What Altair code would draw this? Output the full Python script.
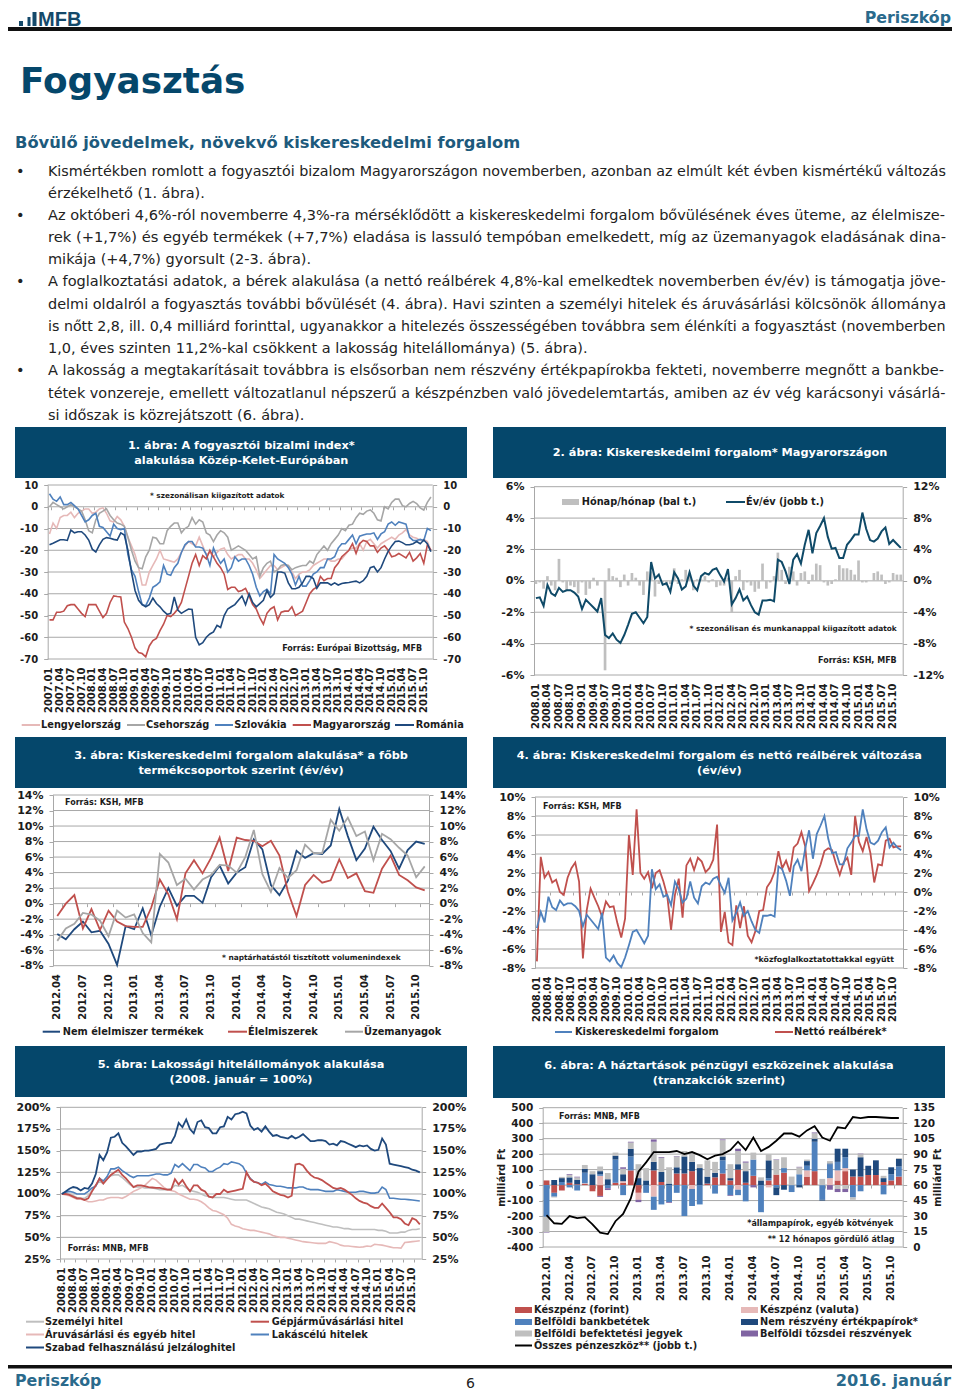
import altair as alt
import pandas as pd

W, H = 944, 1385
ONE = pd.DataFrame({"a": [0]})
SANS = "DejaVu Sans"
BAN = "#05476b"
INK = "#1c1c1c"
GRID = "#a8a8a8"

RED, PINK, BLUE, NAVY, GRAY, PURPLE = "#c0504d", "#e6b9b8", "#4f81bd", "#1f497d", "#a6a6a6", "#8064a2"

def months(y, m, n):
    out = []
    for _ in range(n):
        out.append(f"{y}.{m:02d}")
        m += 1
        if m > 12:
            y, m = y + 1, 1
    return out

BODY_LINES = [
    "Kismértékben romlott a fogyasztói bizalom Magyarországon novemberben, azonban az elmúlt két évben kismértékű változás",
    "érzékelhető (1. ábra).",
    "Az októberi 4,6%-ról novemberre 4,3%-ra mérséklődött a kiskereskedelmi forgalom bővülésének éves üteme, az élelmisze-",
    "rek (+1,7%) és egyéb termékek (+7,7%) eladása is lassuló tempóban emelkedett, míg az üzemanyagok eladásának dina-",
    "mikája (+4,7%) gyorsult (2-3. ábra).",
    "A foglalkoztatási adatok, a bérek alakulása (a nettó reálbérek 4,8%-kal emelkedtek novemberben év/év) is támogatja jöve-",
    "delmi oldalról a fogyasztás további bővülését (4. ábra). Havi szinten a személyi hitelek és áruvásárlási kölcsönök állománya",
    "is nőtt 2,8, ill. 0,4 milliárd forinttal, ugyanakkor a hitelezés összességében továbbra sem élénkíti a fogyasztást (novemberben",
    "1,0, éves szinten 11,2%-kal csökkent a lakosság hitelállománya) (5. ábra).",
    "A lakosság a megtakarításait továbbra is elsősorban nem részvény értékpapírokba fekteti, novemberre megnőtt a bankbe-",
    "tétek vonzereje, emellett változatlanul népszerű a készpénzben való jövedelemtartás, amiben az év vég karácsonyi vásárlá-",
    "si időszak is közrejátszott (6. ábra).",
]
BODY_BASE = [176, 198, 220, 242, 264, 286, 309, 331, 353, 375, 398, 420]
BODY_SIZE = [14.29, 14.5, 14.53, 14.69, 14.5, 14.55, 14.46, 14.22, 14.5, 14.56, 14.39, 14.5]
BULLET_ROWS = [0, 2, 5, 9]

# --- chart 1
POL = [-12.5,-7.5,-10,-5,-4,-4,-2.5,-5,-3,-2,-1,-1,
       -3,-2.5,-1,-0.5,-3,-6.5,-7,-4.5,-6,-9,-14,-18,
       -22,-28,-36,-36,-30,-27,-24,-20,-24,-24.5,-25,-25.5,
       -24,-21,-18,-16,-17,-18,-14,-18,-22,-21,-23,-21,
       -19.5,-19,-22,-24,-23,-22,-22,-24,-24,-26,-29,-33,
       -31,-29,-27,-27,-29,-28,-27,-27,-30,-33,-31,-30,
       -30,-29,-27,-26,-25,-24,-24,-25,-25,-24,-24,-22,
       -20,-19,-19,-17,-20,-16,-15,-17,-19,-17,-16,-15,
       -14,-15,-13,-12,-10.5,-13,-14,-14.5,-15.5,-15,-16,-20]
CZE = [0,2,1,0,-1,0,1,0,-1,-2,-6,-11,
       -12,-6,-3,-2,-1,-4,-6,-7.5,-8,-9,-14,-20,
       -25,-28,-28.5,-23,-20,-14,-14.5,-17,-17,-11,-9,-7.5,
       -7.5,-12,-10,-9,-5,-8,-6,-7,-12,-13,-16,-13,
       -11,-12,-14,-20,-19,-18,-19,-20,-22,-24,-23,-32,
       -28,-26,-25,-30,-29,-27,-26.5,-27,-29,-28,-27.5,-27,
       -27,-25,-26,-22,-20,-18,-20,-17,-15,-13,-10,-11,
       -8.5,-8,-5,-3,-3.5,-2,-1.5,-3,-6,-6.5,0,-1,
       2,3.5,3.5,0.5,0,1.5,2.5,1.5,-0.5,-1.5,2,4.5]
SVK = [6,3.5,2.5,4.5,1,1,2,0.5,-1,-4,-7,-6,
       -4,-3,-9,-9.5,-11.5,-13.5,-8,-10,-10.5,-10,-22,-29,
       -32,-39,-45,-45.5,-42,-37,-36,-34.5,-27,-31,-31.5,-28,
       -26,-21,-17.5,-16,-16,-18.5,-18.5,-19,-22,-27,-19,-23,
       -26,-24,-30,-28,-23,-25,-24,-24,-27,-31,-37,-41,
       -39,-38,-40,-22,-24,-25,-26,-28,-31,-36,-32,-36.5,
       -36.5,-34,-31,-30,-28,-28,-24,-24,-23,-19,-17,-17,
       -15,-13,-17,-13.5,-13,-12.5,-12.5,-12,-15,-12.5,-11.5,-8,
       -7,-8.5,-7,-7.5,-8,-14,-15.5,-15.5,-15,-15.5,-10,-11]
HUN = [-52,-52,-48.5,-48.5,-48,-45.5,-45,-45,-47,-49,-50.5,-45,
       -45,-45,-48,-51,-49,-44,-41,-41.3,-41.5,-53,-56,-60,
       -65,-67,-67.5,-69,-64,-61.5,-60.5,-57,-54,-50,-50.5,-49,
       -47,-44,-38,-32,-26,-22,-27,-22.5,-24,-20,-23,-26,
       -28,-31,-38,-37,-37,-39,-38.5,-37.5,-41,-45,-47,-51,
       -54,-49,-47,-46,-52,-48.5,-48,-48,-46,-50,-49,-48,
       -44,-40,-38,-37,-32,-34,-33,-33,-28,-26,-23,-21.5,
       -20,-17,-21.5,-17,-15.5,-16,-18,-18,-21,-19,-18,-20,
       -23,-22.5,-21.5,-22.5,-23.5,-21,-25,-23.5,-21.5,-26,-17.5,-20]
ROU = [-17.5,-16.8,-16,-15.2,-15.2,-15.5,-10.7,-12,-11.5,-11.5,-13,-15.3,
       -19.5,-20.8,-17.5,-15,-14.2,-14.5,-15,-15.3,-12,-13,-20,-30,
       -38.5,-43,-45,-46,-45,-42,-44.5,-46,-48,-49.5,-49,-41.5,
       -47.5,-49,-48,-47,-47.2,-60,-63.5,-62.5,-60,-58.5,-57.5,-54.5,
       -55.5,-50,-47,-46,-45,-43,-41,-45,-40,-44,-46,-44.5,
       -43,-38.5,-41.7,-40,-30,-30,-30.5,-35,-37.7,-37.7,-37,-35,
       -32,-32,-33,-37.5,-35,-35,-35,-36,-35,-36,-35.3,-35,
       -34.8,-34.5,-34.2,-35,-34,-32,-28,-27.5,-30,-28,-24,-20.5,
       -18,-16,-15.8,-16.5,-17.5,-17.5,-17,-16,-17,-15.3,-17,-20.7]

# --- chart 2
MOM = [-0.2,-0.1,-0.5,0.3,-0.3,-0.6,1.4,-0.1,-0.6,-0.3,-0.4,-0.8,
       -0.1,-0.9,-0.5,0.2,-0.3,0,-5.7,0.8,0.3,0.2,-0.4,0.4,
       -0.3,0.5,0.2,-0.3,-0.9,0.6,0.6,-1,-0.2,-0.1,-0.3,-0.2,
       0.8,-0.2,0.1,0.7,0.4,-0.6,0.1,0.1,0.3,-0.1,0.1,-0.4,
       -0.3,-0.3,0.2,-2.0,0.3,0.7,-0.6,-0.1,-0.3,-0.7,-0.5,1.1,
       -0.5,-0.1,0.3,1.8,0.7,-0.2,0.9,0.6,-0.3,0.5,0.6,-0.2,
       0.4,1.1,1.0,-0.1,-0.3,-0.2,0.1,1.0,0.8,0.8,0.7,0.4,
       1.3,-0.1,-0.1,0,0.5,0.6,0.4,-0.2,-0.1,0.5,0.4,0.4]
YOY = [-2.2,-2.1,-3.2,-0.5,-1.6,-1.9,-0.9,-1.4,-1.2,-1.2,-1.5,-2.0,
       -3.6,-2.4,-2.9,-3.4,-3.9,-2.2,-6.9,-7.3,-6.7,-7.5,-7.9,-6.9,
       -5.6,-4.2,-4.0,-4.7,-5.4,-4.6,2.4,0.3,0.8,-0.5,-0.3,-1.4,
       1.1,0.3,-1.1,-0.7,1.1,-0.6,-1.2,0.6,1.0,0.8,1.4,1.6,
       0.7,-0.1,1.5,-3.0,-2.2,-1.1,-2.5,-2.0,-3.1,-4.0,-4.3,-2.5,
       -2.5,-2.4,-2.6,2.7,2.4,1.2,-0.4,2.7,3.4,2.2,4.6,6.5,
       3.5,6.1,7.0,8.0,5.6,4.1,4.2,2.9,2.9,4.6,5.2,5.9,
       5.9,8.7,6.6,5.2,5.0,5.4,6.3,6.8,4.7,5.2,4.7,4.2]

# --- chart 3
NONFOOD = [-3.9,-4.6,-3.3,-2.3,-3.7,-3.5,-5.2,-7.9,-2.9,-3.3,-0.6,-4.1,-0.4,2,-0.3,1,1,0.1,3.4,4.9,2.6,4,4.7,8.3,7,2.4,1.1,3,6.8,5.9,6.5,6.4,7.5,12.2,8.7,5.6,7.1,9.9,8.2,6.8,4.5,6.9,8,7.7]
FOOD = [-1.6,0,1.1,-3.2,-0.7,-3.4,-0.9,-2.3,-2.9,-3,-3,-0.5,3.1,1.2,-2,3.9,5.6,3.9,5.9,8.5,4.2,8.5,8.2,8.1,7.4,8.1,6.2,1.5,-1.6,2.4,3.7,2.7,3,5.7,3.3,3.9,1.6,1.4,4.5,6.2,3.7,3,2.1,1.7]
FUEL = [-4.8,-3.2,-2.6,-1.2,-1.4,-2.2,-4.2,-0.9,-1.8,-1.4,-3.8,-5,6.4,5.3,2.4,3.2,1.8,3.1,3.7,5,4.9,4,6,9.5,3.8,1.5,4.6,3.3,4.3,7.6,6.5,6.5,10.8,9.4,11.1,8.7,9.3,5.6,9,8.3,7.2,6.2,3.4,4.8]

# --- chart 4
RETAIL = [-3.8,-2.1,-3.2,-0.5,-1.6,-1.9,-0.9,-1.4,-1.2,-1.2,-1.5,-2.0,
          -3.6,-2.4,-2.9,-3.4,-3.9,-2.2,-6.9,-7.3,-6.7,-7.5,-7.9,-6.9,
          -5.6,-4.2,-4.0,-4.7,-5.4,-4.6,2.4,0.3,0.8,-0.5,-0.3,-1.4,
          1.1,0.3,-1.1,-0.7,1.1,-0.6,-1.2,0.6,1.0,0.8,1.4,1.6,
          0.7,-0.1,1.5,-3.0,-2.2,-1.1,-2.5,-2.0,-3.1,-4.0,-4.3,-2.5,
          -2.5,-2.4,-2.6,2.7,2.4,1.2,-0.4,2.7,3.4,2.2,4.6,6.5,
          3.5,6.1,7.0,8.0,5.6,4.1,4.2,2.9,2.9,4.6,5.2,5.9,
          5.9,8.7,6.6,5.2,5.0,5.4,6.3,6.8,4.7,5.2,4.7,4.4]
WAGE = [-7.3,3.7,1.5,2.1,1,1.3,0,-0.3,1.5,2.5,3.1,1.1,
        -7,-1.9,0.35,-0.6,-1.5,-2.6,-1,-1.6,-1.5,-3.3,-4.8,-2.8,
        6,1.8,8.7,2,1.4,2.1,0.4,2,2.3,1.1,-0.4,-4,
        -0.3,1.4,-2.7,2.8,3.5,2.3,3.6,3.2,2.1,2.5,3.4,7.1,
        -4.2,-2.1,-5.3,-5.6,-1.4,-3.8,-1.5,-4.6,-5.3,-4.1,-2,-1.9,
        0.5,1.1,2.1,4.3,2.5,3.3,2.1,4.7,5.1,6.3,4.8,0.1,
        0.9,1.8,2.9,4.3,4.6,4.4,3,1.8,3.1,3.6,1.8,8,
        5.3,4.3,5.8,4.1,1,2.9,2.8,5.4,5.6,4.7,4.8,4.8]

# --- chart 5
PERS = [100,101,100,98,96,95,95,98,104,110,115,112,
        118,121,122,122,119,115,111,108,108,108,107,107,
        107,106,105,105,105,106,110,109,110,107,104,103,
        102,100,98,97,96,96,96,96,95,94,93,93,
        93,93,91,89,87,85,84,83,81,79,78,77,
        75,73,71,71,70,69,68,67,66,65,64,63,
        62,62,61,60,60,59,59,59,59,59,59,59,
        58,58,57,55,55,55,56,56,58,59,59,60]
CONS = [100,99,98,96,94,94,93,91,91,92,93,93,
        95,96,96,96,95,97,100,103,105,107,110,114,
        118,116,112,108,105,104,103,100,98,96,94,94,
        93,91,88,84,81,80,78,76,72,65,63,62,
        60,59,58,58,57,56,55,54,52,51,50,50,
        49,48,47,46,45,44.5,44,43.5,43,43,43,45,
        44,43,41,40,40,39.5,39,38.5,39,40,39.5,42,
        41.5,41,40,39,38,38,37.5,44,44.5,45,45.5,46]
FREE = [100,103,106,108,107,104,107,106,112,123,145,139,
        148,165,166,170,159,155,150,145,149,149,150,150,
        151,152,157,158,159,159,167,182,177,186,175,170,
        183,185,177,176,170,170,177,178,189,186,192,193,
        195,193,179,174,176,172,178,172,167,168,166,165,
        164,167,164,166,169,165,161,161,162,162,161,157,
        158,156,161,160,158,156,154,156,155,156,152,150,
        151,164,157,135,134,133,132,131,130,128,127,125]
AUTO = [100,100,99,97,95,95,93,95,103,110,118,112,
        117,122,125,128,122,118,113,108,110,110,109,108,
        107.5,107,107,106,105,105,117,111,116,109,103,110,
        110,105,103,97,96,100,100,105,102,103,104,105,
        106,125,117,114,113,110,112,108,103,101,99,98,
        96,98,134,135,133,127,122,119,118,116,113,110,
        107,106,107,105,102,99,95,92,90,89,86,84,
        84,89,84,79,73,73,71,66,64,72,70,65]
HOME = [100,102,103,102,100,100,100,103,107,109,118,115,
        120,129,129,131,127,124,121,119,121,121,121,121,
        122,123,123,122,122,124,134,131,135,131,127,134,
        134,131,130,126,126,129,131,135,134,137,136,135,
        132,124,118,114,113,111,114,111,110,109,109,108,
        107,107,107,108,108,106,105,105,105,104,103,103,
        103,105,104,103,102,102,102,103,103,102,101,101,
        102,108,105,95,95,94.5,94,94,93.5,93,92.5,92]

# --- chart 6
HUF = [30,-50,-35,15,5,8,-40,-70,0,15,15,95,-50,0,95,20,0,75,75,90,0,10,50,75,30,100,15,60,0,30,68,80,0,0,55,90,0,0,30,90,55,55,65,65,20,30,55]
FX = [0,0,0,0,0,4,0,60,0,0,10,0,-45,0,-75,0,0,0,0,-25,0,0,0,0,0,-30,0,0,0,-15,0,0,0,0,40,0,0,45,65,20,0,0,0,0,0,0,0]
DEP = [-205,-25,20,-15,-35,68,0,10,-20,150,-65,90,0,-50,-85,-125,-110,-50,-200,-110,-125,0,-55,85,-65,-35,-105,105,-175,15,-15,30,-45,70,30,190,-95,90,55,70,-80,-40,0,0,-60,40,65]
BOND = [0,33,25,35,30,25,70,20,38,25,45,50,45,30,55,65,10,40,110,60,110,45,30,25,15,35,75,0,30,115,-50,-30,0,-15,30,20,-5,5,85,55,45,125,60,95,25,45,50]
FUND = [-100,-5,8,15,15,25,20,30,40,20,35,40,90,80,130,90,105,70,35,55,25,105,70,105,90,85,55,45,20,40,95,70,55,45,10,35,40,15,-25,-25,-15,20,0,0,15,0,5]
EQ = [-3,0,0,5,4,0,0,-6,-12,0,10,5,-15,0,15,5,-5,3,0,0,0,0,0,5,-5,15,7,-15,0,0,3,0,0,3,0,5,0,-30,-20,-20,0,3,0,0,0,0,0]
TOTAL = [31,23,22.5,30,28,29,22,14,12.5,25,32,47,73,82,92,92,92,93,90,92,89,85,88.5,90,94,102,94,106,93,97,103,110,110,107,113,117,106,103,116,115,126,125,126,126,125.5,125,125]


def T(s, x, y, size=9.8, bold=True, color=INK, align="left", angle=None, base="alphabetic", font=SANS):
    kw = dict(text=s, align=align, baseline=base, font=font, fontSize=size,
              fontWeight="bold" if bold else "normal", color=color)
    if angle is not None:
        kw["angle"] = angle
    return alt.Chart(ONE).mark_text(**kw).encode(x=alt.value(x - 8), y=alt.value(y - 8))


def R(a, b, c, d, color):
    return alt.Chart(ONE).mark_rect(color=color).encode(
        x=alt.value(a - 8), x2=alt.value(b - 8), y=alt.value(c - 8), y2=alt.value(d - 8))


def LK(s, a, b, tx, y, color, thick=2, size=9.8):
    return [R(a, b, y - thick / 2, y + thick / 2, color), T(s, tx, y, size=size, base="middle")]


class Panel:
    def __init__(self, cats, ticks, x0, x1, ytop, ybot, dom, yvals, pad=0.0):
        self.cats, self.ticks = cats, ticks
        self.x0, self.x1, self.ytop, self.ybot = x0, x1, ytop, ybot
        self.dom, self.yvals = dom, yvals
        self.xs = alt.Scale(domain=cats, range=[x0 - 8, x1 - 8], paddingInner=pad, paddingOuter=pad / 2)

    def ys(self, dom=None):
        return alt.Scale(domain=dom or self.dom, range=[self.ybot - 8, self.ytop - 8], nice=False, zero=False)

    def yaxis(self, orient, vals, fmt, size):
        off = -(self.x0 - 8) if orient == "left" else self.x1 - 8 - W
        return alt.Axis(orient=orient, offset=off, values=vals, title=None, grid=False,
                        domainColor=GRID, tickColor=GRID, tickSize=4, labelPadding=6,
                        labelFont=SANS, labelFontSize=size, labelFontWeight="bold", labelColor=INK,
                        labelExpr=fmt, labelOverlap=False)

    def frame(self, fmt, rdom=None, rvals=None, rfmt=None, size=11, xsize=10, tick_at=None):
        L = []
        d = pd.DataFrame({"v": self.yvals})
        L.append(alt.Chart(d).mark_rule(color=GRID, strokeWidth=1).encode(
            y=alt.Y("v:Q", scale=self.ys(), axis=self.yaxis("left", self.yvals, fmt, size)),
            x=alt.value(self.x0 - 8), x2=alt.value(self.x1 - 8)))
        dr = pd.DataFrame({"v": rvals or self.yvals})
        L.append(alt.Chart(dr).mark_rule(opacity=0).encode(
            y=alt.Y("v:Q", scale=self.ys(rdom), axis=self.yaxis("right", rvals or self.yvals, rfmt or fmt, size)),
            x=alt.value(self.x0 - 8), x2=alt.value(self.x1 - 8)))
        dt = pd.DataFrame({"m": self.ticks})
        L.append(alt.Chart(dt).mark_rule(opacity=0).encode(
            x=alt.X("m:N", scale=self.xs, sort=None, axis=alt.Axis(
                orient="bottom", offset=self.ybot - 8 - H, values=self.ticks, title=None, grid=False,
                labelAngle=270, labelAlign="right", labelBaseline="middle", labelPadding=8,
                ticks=False, domain=False, labelFont=SANS, labelFontSize=xsize, labelFontWeight="bold",
                labelColor=INK, labelOverlap=False)),
            y=alt.value(0), y2=alt.value(1)))
        if tick_at is not None:
            lo, hi = self.dom
            y0 = self.ybot - (tick_at - lo) / (hi - lo) * (self.ybot - self.ytop)
            L.append(alt.Chart(dt).mark_rule(opacity=0).encode(
                x=alt.X("m:N", scale=self.xs, sort=None, axis=alt.Axis(
                    orient="bottom", offset=y0 - 8 - H, values=self.ticks, title=None, grid=False,
                    labels=False, domain=False, ticks=True, tickSize=3, tickColor=GRID, tickBand="extent")),
                y=alt.value(0), y2=alt.value(1)))
        return L

    def line(self, vals, color, width=1.6, dom=None):
        d = pd.DataFrame({"m": self.cats[:len(vals)], "v": vals})
        return alt.Chart(d).mark_line(color=color, strokeWidth=width, clip=False).encode(
            x=alt.X("m:N", scale=self.xs, sort=None, axis=None),
            y=alt.Y("v:Q", scale=self.ys(dom), axis=None))

    def bars(self, vals, color):
        d = pd.DataFrame({"m": self.cats[:len(vals)], "v": vals})
        return alt.Chart(d).mark_bar(color=color).encode(
            x=alt.X("m:N", scale=self.xs, sort=None, axis=None),
            y=alt.Y("v:Q", scale=self.ys(), axis=None))

    def stack(self, series):
        rows = []
        for o, (name, vals, col) in enumerate(series):
            for m, v in zip(self.cats, vals):
                rows.append({"m": m, "v": v, "s": name, "o": o})
        d = pd.DataFrame(rows)
        return alt.Chart(d).mark_bar().encode(
            x=alt.X("m:N", scale=self.xs, sort=None, axis=None),
            y=alt.Y("v:Q", scale=self.ys(), axis=None, stack="zero"),
            color=alt.Color("s:N", legend=None, scale=alt.Scale(
                domain=[s[0] for s in series], range=[s[2] for s in series])),
            order=alt.Order("o:Q"))


def banner(a, b, c, d, lines, cx, ys, size=11.3):
    out = [R(a, b, c, d, BAN)]
    for s, y in zip(lines, ys):
        out.append(T(s, cx, y, size=size, color="white", align="center", base="middle"))
    return out


PCT = "datum.value + '%'"
NUM = "'' + datum.value"
L = []

# page furniture
L += [R(8, 952, 27, 31, "#111111"), R(8, 952, 1365, 1368.5, "#111111")]
L += [R(19, 23, 21, 26, "#14496a"), R(27.5, 30.5, 17, 26, "#14496a"), R(32.5, 36.5, 12, 26, "#14496a")]
L.append(T("MFB", 38, 26, size=20, color="#14496a", font="Liberation Sans"))
L.append(T("Periszkóp", 951, 23, size=15.8, color="#2a6a8c", align="right"))
L.append(T("Fogyasztás", 20, 93, size=35.8, color="#05476b"))
L.append(T("Bővülő jövedelmek, növekvő kiskereskedelmi forgalom", 15, 148, size=16.3, color="#1d5a7c"))
for i, (s, y, z) in enumerate(zip(BODY_LINES, BODY_BASE, BODY_SIZE)):
    L.append(T(s, 48, y, size=z, bold=False, color="#222222"))
    if i in BULLET_ROWS:
        L.append(T("•", 16, y, size=14.5, bold=False, color="#222222"))
L.append(T("Periszkóp", 15, 1386, size=15.8, color="#2a6a8c"))
L.append(T("6", 466, 1388, size=14, bold=False, color="#222222"))
L.append(T("2016. január", 951, 1386, size=16.2, color="#2a6a8c", align="right"))

# 1
c1 = months(2007, 1, 108)
p = Panel(c1, c1[::3], 47.7, 432.7, 485, 659, [-70, 10], list(range(-70, 11, 10)))
L += banner(15, 467, 427, 478, ["1. ábra: A fogyasztói bizalmi index*", "alakulása Közép-Kelet-Európában"], 241.3, [445.7, 461])
L += p.frame(NUM, size=10, tick_at=0)
for v, col in [(POL, PINK), (CZE, GRAY), (SVK, BLUE), (HUN, RED), (ROU, NAVY)]:
    L.append(p.line(v, col))
L.append(T("* szezonálisan kiigazított adatok", 150, 495.7, size=7.3, base="middle"))
L.append(T("Forrás: Európai Bizottság, MFB", 422, 649.3, size=8, align="right", base="middle"))
for s, a, b, tx, col in [("Lengyelország", 21.7, 40, 41, PINK), ("Csehország", 127, 145, 146, GRAY), ("Szlovákia", 215, 233, 234.3, BLUE),
                         ("Magyarország", 292.7, 311, 312.7, RED), ("Románia", 395, 414, 415.7, NAVY)]:
    L += LK(s, a, b, tx, 725, col)

# 2
c2 = months(2008, 1, 96)
p = Panel(c2, c2[::3], 534, 902.7, 486.7, 675, [-6, 6], list(range(-6, 7, 2)), pad=0.3)
L += banner(493, 946, 427, 478, ["2. ábra: Kiskereskedelmi forgalom* Magyarországon"], 720, [453.3])
L += p.frame(PCT, rdom=[-12, 12], rvals=list(range(-12, 13, 4)))
L.append(p.bars(MOM, "#bfbfbf"))
L.append(p.line(YOY, "#0f4a68", width=2, dom=[-12, 12]))
L.append(T("* szezonálisan és munkanappal kiigazított adatok", 896.7, 629, size=7.4, align="right", base="middle"))
L.append(T("Forrás: KSH, MFB", 896.7, 660.7, size=8, align="right", base="middle"))
L += LK("Hónap/hónap (bal t.)", 562, 579, 581.7, 502, "#bfbfbf", thick=6)
L += LK("Év/év (jobb t.)", 726, 745, 746, 502, "#0f4a68")

# 3
c3 = months(2012, 4, 44)
p = Panel(c3, c3[::3], 53, 429, 795, 965.7, [-8, 14], list(range(-8, 15, 2)))
L += banner(15, 467, 737, 788, ["3. ábra: Kiskereskedelmi forgalom alakulása* a főbb", "termékcsoportok szerint (év/év)"], 241, [755.7, 771])
L += p.frame(PCT, tick_at=0)
for v, col in [(NONFOOD, NAVY), (FOOD, RED), (FUEL, GRAY)]:
    L.append(p.line(v, col, width=1.8))
L.append(T("Forrás: KSH, MFB", 65, 803.3, size=8, base="middle"))
L.append(T("* naptárhatástól tisztított volumenindexek", 222, 958, size=7.4, base="middle"))
for s, a, b, tx, col in [("Nem élelmiszer termékek", 42.7, 60, 62.7, NAVY), ("Élelmiszerek", 228, 247, 248, RED), ("Üzemanyagok", 345, 363, 364, GRAY)]:
    L += LK(s, a, b, tx, 1031.7, col)

# 4
p = Panel(c2, c2[::3], 535, 903, 797, 968, [-8, 10], list(range(-8, 11, 2)))
L += banner(493, 946, 737, 788, ["4. ábra: Kiskereskedelmi forgalom és nettó reálbérek változása", "(év/év)"], 719.3, [755.7, 771])
L += p.frame(PCT, tick_at=0)
L.append(p.line(WAGE, RED, width=1.8))
L.append(p.line(RETAIL, BLUE, width=1.8))
L.append(T("Forrás: KSH, MFB", 543, 807, size=8, base="middle"))
L.append(T("*közfoglalkoztatottakkal együtt", 894, 960, size=7.8, align="right", base="middle"))
L += LK("Kiskereskedelmi forgalom", 555, 572, 575, 1032, BLUE)
L += LK("Nettó reálbérek*", 775, 793, 794, 1032, RED)

# 5
p = Panel(c2, c2[::3], 60, 421.7, 1107.3, 1259, [25, 200], list(range(25, 201, 25)))
L += banner(15, 467, 1046, 1097, ["5. ábra: Lakossági hitelállományok alakulása", "(2008. január = 100%)"], 241, [1065, 1080])
L += p.frame(PCT, tick_at=25)
for v, col, w in [(PERS, "#bfbfbf", 1.6), (CONS, PINK, 1.6), (HOME, BLUE, 1.6), (AUTO, RED, 1.8), (FREE, NAVY, 1.8)]:
    L.append(p.line(v, col, width=w))
L.append(T("Forrás: MNB, MFB", 67.7, 1249, size=8, base="middle"))
for s, a, b, tx, y, col in [("Személyi hitel", 26, 44, 45, 1321.7, "#bfbfbf"), ("Áruvásárlási és egyéb hitel", 26, 44, 45, 1334.5, PINK),
                            ("Szabad felhasználású jelzáloghitel", 26, 44, 45, 1347.5, NAVY),
                            ("Gépjárművásárlási hitel", 250.7, 269, 271.7, 1321.7, RED), ("Lakáscélú hitelek", 250.7, 269, 271.7, 1334.5, BLUE)]:
    L += LK(s, a, b, tx, y, col)

# 6
c6 = months(2012, 1, 47)
p = Panel(c6, c6[::3], 542.7, 902.7, 1107.7, 1247, [-400, 500], list(range(-400, 501, 100)), pad=0.24)
L += banner(493, 945, 1046, 1098, ["6. ábra: A háztartások pénzügyi eszközeinek alakulása", "(tranzakciók szerint)"], 719, [1065.7, 1081])
L += p.frame(NUM, rdom=[0, 135], rvals=list(range(0, 136, 15)), size=10.5, tick_at=0)
L.append(p.stack([("Készpénz (forint)", HUF, RED), ("Készpénz (valuta)", FX, PINK), ("Belföldi bankbetétek", DEP, BLUE),
                  ("Nem részvény értékpapírok*", BOND, NAVY), ("Belföldi befektetési jegyek", FUND, "#bfbfbf"),
                  ("Belföldi tőzsdei részvények", EQ, PURPLE)]))
L.append(p.line(TOTAL, "#000000", width=1.8, dom=[0, 135]))
L.append(T("Forrás: MNB, MFB", 559, 1116.7, size=8, base="middle"))
L.append(T("*állampapírok, egyéb kötvények", 893.3, 1224.3, size=8, align="right", base="middle"))
L.append(T("** 12 hónapos gördülő átlag", 894.5, 1240, size=8, align="right", base="middle"))
L.append(T("milliárd Ft", 501.7, 1177.7, size=10, align="center", base="middle", angle=270))
L.append(T("milliárd Ft", 938, 1177.7, size=10, align="center", base="middle", angle=270))
for s, y, col in [("Készpénz (forint)", 1310, RED), ("Belföldi bankbetétek", 1322, BLUE), ("Belföldi befektetési jegyek", 1333.5, "#bfbfbf")]:
    L += LK(s, 515, 532, 534, y, col, thick=6)
for s, y, col in [("Készpénz (valuta)", 1310, PINK), ("Nem részvény értékpapírok*", 1322, NAVY), ("Belföldi tőzsdei részvények", 1333.5, PURPLE)]:
    L += LK(s, 741, 758, 760, y, col, thick=6)
L += LK("Összes pénzeszköz** (jobb t.)", 515, 532, 534, 1345.5, "#000000")

chart = alt.layer(*L).resolve_scale(x="independent", y="independent").properties(
    width=W, height=H, padding=0, autosize=alt.AutoSizeParams(type="none"), background="white"
).configure_view(strokeWidth=0)

chart.save("out.html", embed_options={"renderer": "svg", "actions": False})
